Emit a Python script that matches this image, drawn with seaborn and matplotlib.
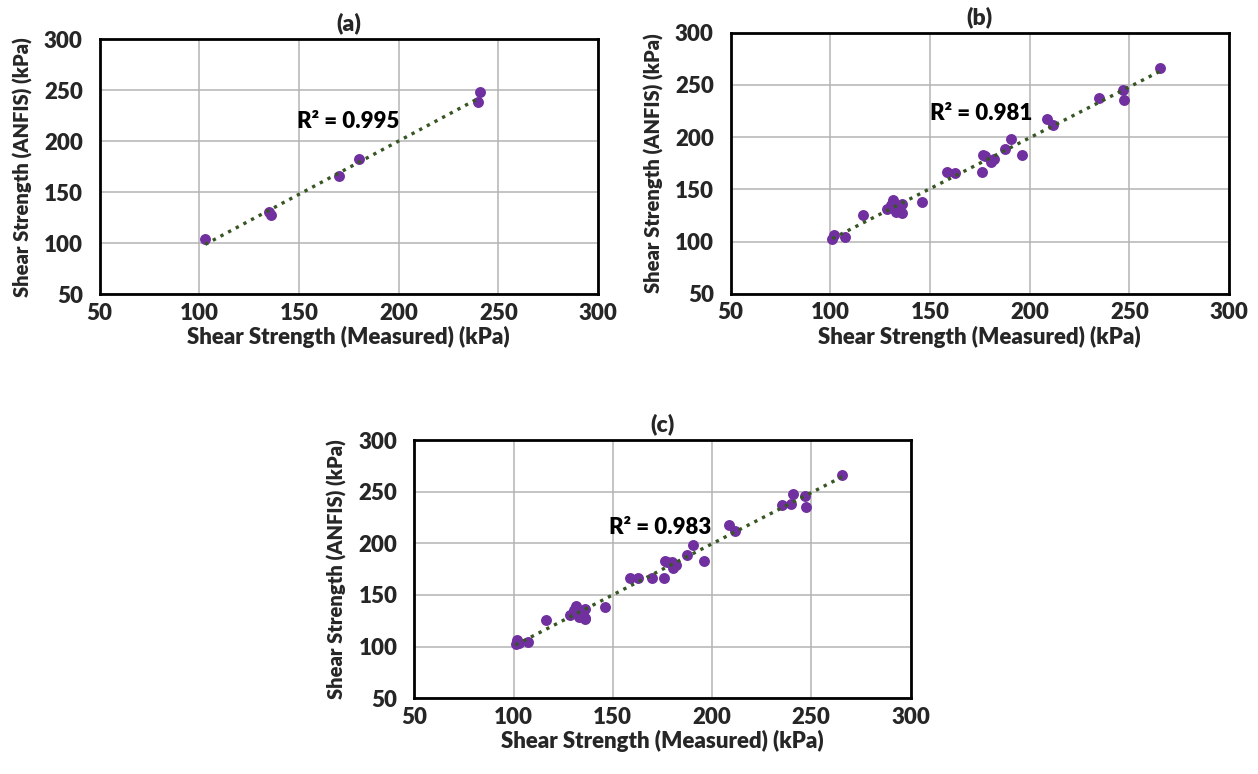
import numpy as np
import pandas as pd
import seaborn as sns
import matplotlib.pyplot as plt

sns.set_theme(style="white")
plt.rcParams['font.family'] = ['Lato', 'DejaVu Sans']
plt.rcParams['font.weight'] = 'bold'

# ---------------- data ----------------
# (a) testing set
meas_a = [103, 135, 136, 170, 180, 240, 241]
anfis_a = [104, 131, 128, 166, 182, 238, 248]

# (b) training set
meas_b = [101, 102, 107.5, 116.5, 128.5, 131.5, 130.5, 133.5, 136, 136, 133,
          146, 158.5, 162.5, 176, 176.5, 177.5, 180.5, 182, 187.5, 190.5,
          196, 208.5, 211.5, 235, 247, 247.5, 265.5]
anfis_b = [103, 106, 104.5, 125.5, 131, 139.5, 135, 133.5, 136.5, 127, 128.5,
           138, 166.5, 166, 166.5, 182.5, 182, 176, 179, 188.5, 198.5,
           182.5, 217.5, 211.5, 237, 245.5, 235, 266.5]

# (c) all data
meas_c = meas_a + meas_b
anfis_c = anfis_a + anfis_b

titles = ["(a)", "(b)", "(c)"]
r2_labels = ["R² = 0.995", "R² = 0.981", "R² = 0.983"]
r2_pos = [(149, 219), (150, 222.5), (148, 215)]
ticks = [50, 100, 150, 200, 250, 300]

PURPLE = "#7030A0"
GREEN = "#375623"
WEIGHT = "heavy"

fig = plt.figure(figsize=(12.58, 7.74), dpi=100)
axes = [
    fig.add_axes([0.0791, 0.6198, 0.3963, 0.3298]),
    fig.add_axes([0.5807, 0.6202, 0.3963, 0.3378]),
    fig.add_axes([0.3293, 0.0978, 0.3945, 0.3337]),
]

sets = [(meas_a, anfis_a), (meas_b, anfis_b), (meas_c, anfis_c)]

for ax, (mx, my), title, lab, pos in zip(axes, sets, titles, r2_labels, r2_pos):
    df = pd.DataFrame({"measured": mx, "anfis": my})
    sns.regplot(data=df, x="measured", y="anfis", ax=ax, ci=None,
                scatter_kws={"s": 62, "color": PURPLE, "alpha": 1,
                             "linewidths": 0, "zorder": 3},
                line_kws={"color": GREEN, "ls": (0, (1, 1.6)), "lw": 2.4,
                          "zorder": 4})
    ax.set_xlim(50, 300)
    ax.set_ylim(50, 300)
    ax.set_xticks(ticks)
    ax.set_yticks(ticks)
    ax.grid(True, color="#B4B4B4", lw=1.1)
    ax.set_axisbelow(True)
    for s in ax.spines.values():
        s.set_color("black")
        s.set_linewidth(2)
    ax.tick_params(axis="both", length=0, labelsize=16)
    ax.tick_params(axis="x", pad=6)
    ax.tick_params(axis="y", pad=12)
    for t in ax.get_xticklabels() + ax.get_yticklabels():
        t.set_fontweight(WEIGHT)
    ax.set_xlabel("Shear Strength (Measured) (kPa)", fontsize=16,
                  fontweight=WEIGHT, labelpad=2)
    ax.set_ylabel("Shear Strength (ANFIS) (kPa)", fontsize=14.5,
                  fontweight=WEIGHT, labelpad=8)
    ax.set_title(title, fontsize=16.5, fontweight=WEIGHT, pad=6)
    ax.text(pos[0], pos[1], lab, fontsize=16, fontweight=WEIGHT,
            ha="left", va="center", color="black")

fig.savefig("out.png", dpi=100)
